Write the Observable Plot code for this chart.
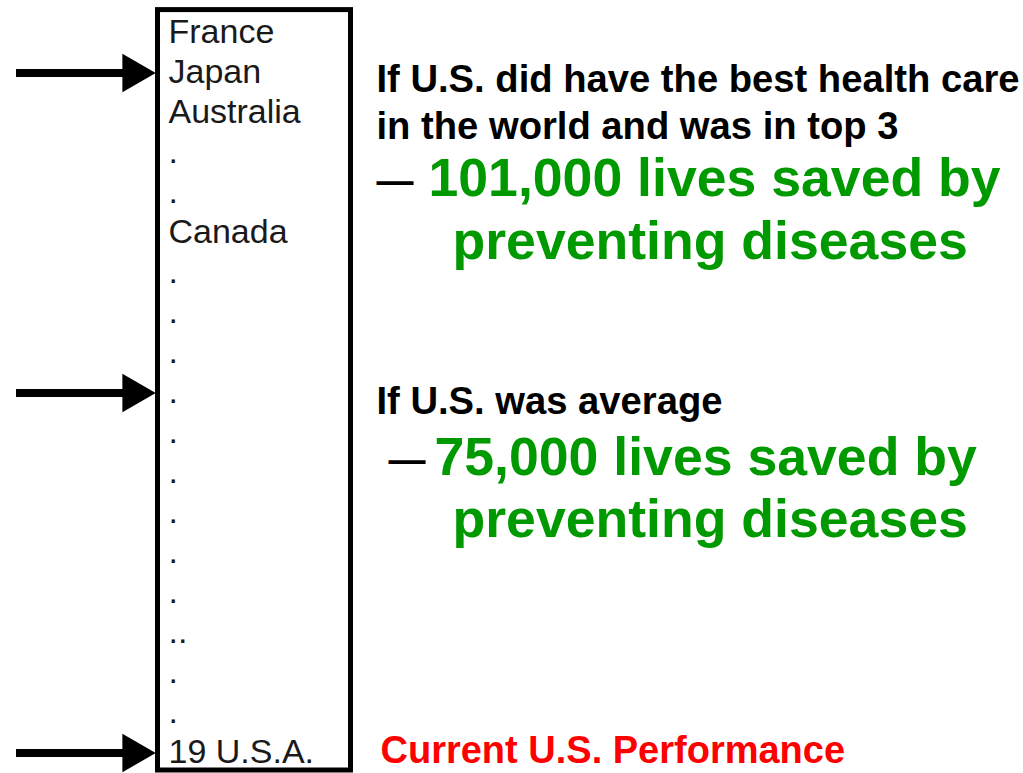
<!DOCTYPE html>
<html><head><meta charset="utf-8">
<script src="https://cdn.jsdelivr.net/npm/d3@7"></script>
<script src="https://cdn.jsdelivr.net/npm/@observablehq/plot@0.6"></script>
<style>html,body{margin:0;padding:0;background:#fff;} svg{display:block}</style>
</head><body><div id="chart"></div>
<script>
// ---- data ----
const countries = ["France","Japan","Australia",".",".","Canada",".",".",".",".",".",".",".",".",".","..",".",".","19 U.S.A."];
const ranks = countries.map((_, i) => i + 1);
const arrowRanks = [2, 10, 19];
const scenarioTitles = ["If U.S. did have the best health care", "in the world and was in top 3", "If U.S. was average"];
const livesSaved = [101000, 75000];
const savedSuffix = " lives saved by";
const savedLine2 = "preventing diseases";
const currentLabel = "Current U.S. Performance";

// ---- build ----
const rows = countries.map((name, i) => ({rank: ranks[i], name}));
const fmt = d3.format(",");
const FONT = '"Liberation Sans", Arial, Helvetica, sans-serif';
const GREEN = "#009900";

function note(text, rank, x, dy, o) {
  return Plot.text([text], Object.assign({
    x: x, y: rank, text: d => d, textAnchor: "start", lineAnchor: "bottom", dy: dy
  }, o));
}
const titleStyle = {fontSize: 38.2, fontWeight: "bold", fill: "#000"};
const greenStyle = {fontSize: 53.6, fontWeight: "bold", fill: GREEN};
const dashStyle = {fontSize: 37, fontWeight: "bold", fill: "#000"};

const chart = Plot.plot({
  width: 1023, height: 773,
  marginTop: 42, marginBottom: 11, marginLeft: 0, marginRight: 0,
  x: {domain: [0, 1023], axis: null},
  y: {domain: [1, 19], reverse: true, axis: null},
  style: {fontFamily: FONT, background: "#fff", overflow: "visible"},
  marks: [
    // ranking box
    Plot.rect([0], {x1: 157.5, x2: 350.5, y1: 0.19, y2: 19.2, fill: "none", stroke: "#000", strokeWidth: 5}),
    // ranking list
    Plot.text(rows, {x: 168, y: "rank", text: "name", textAnchor: "start", lineAnchor: "bottom", fontSize: 34, fill: "#1a1a1a"}),
    // arrows
    Plot.ruleY(arrowRanks, {y: d => d, x1: 16, x2: 126, stroke: "#000", strokeWidth: 8, dy: -9.5}),
    Plot.dot(arrowRanks, {x: 133, y: d => d, symbol: "triangle", r: 14.3, rotate: 90, fill: "#000", stroke: "none", dy: -9.5}),
    // scenario 1: top 3
    note(scenarioTitles[0], arrowRanks[0], 376, 9, titleStyle),
    note(scenarioTitles[1], arrowRanks[0], 376, 56, titleStyle),
    note("\u2014", arrowRanks[0], 376, 110, dashStyle),
    note(fmt(livesSaved[0]) + savedSuffix, arrowRanks[0], 428, 113, greenStyle),
    note(savedLine2, arrowRanks[0], 452, 176, greenStyle),
    // scenario 2: average
    note(scenarioTitles[2], arrowRanks[1], 376, 11, titleStyle),
    note("\u2014", arrowRanks[1], 388, 69, dashStyle),
    note(fmt(livesSaved[1]) + savedSuffix, arrowRanks[1], 434, 72, greenStyle),
    note(savedLine2, arrowRanks[1], 452, 134, greenStyle),
    // current
    note(currentLabel, arrowRanks[2], 380, 0, {fontSize: 38, fontWeight: "bold", fill: "#ff0000"})
  ]
});
document.getElementById("chart").appendChild(chart);
</script>
</body></html>
